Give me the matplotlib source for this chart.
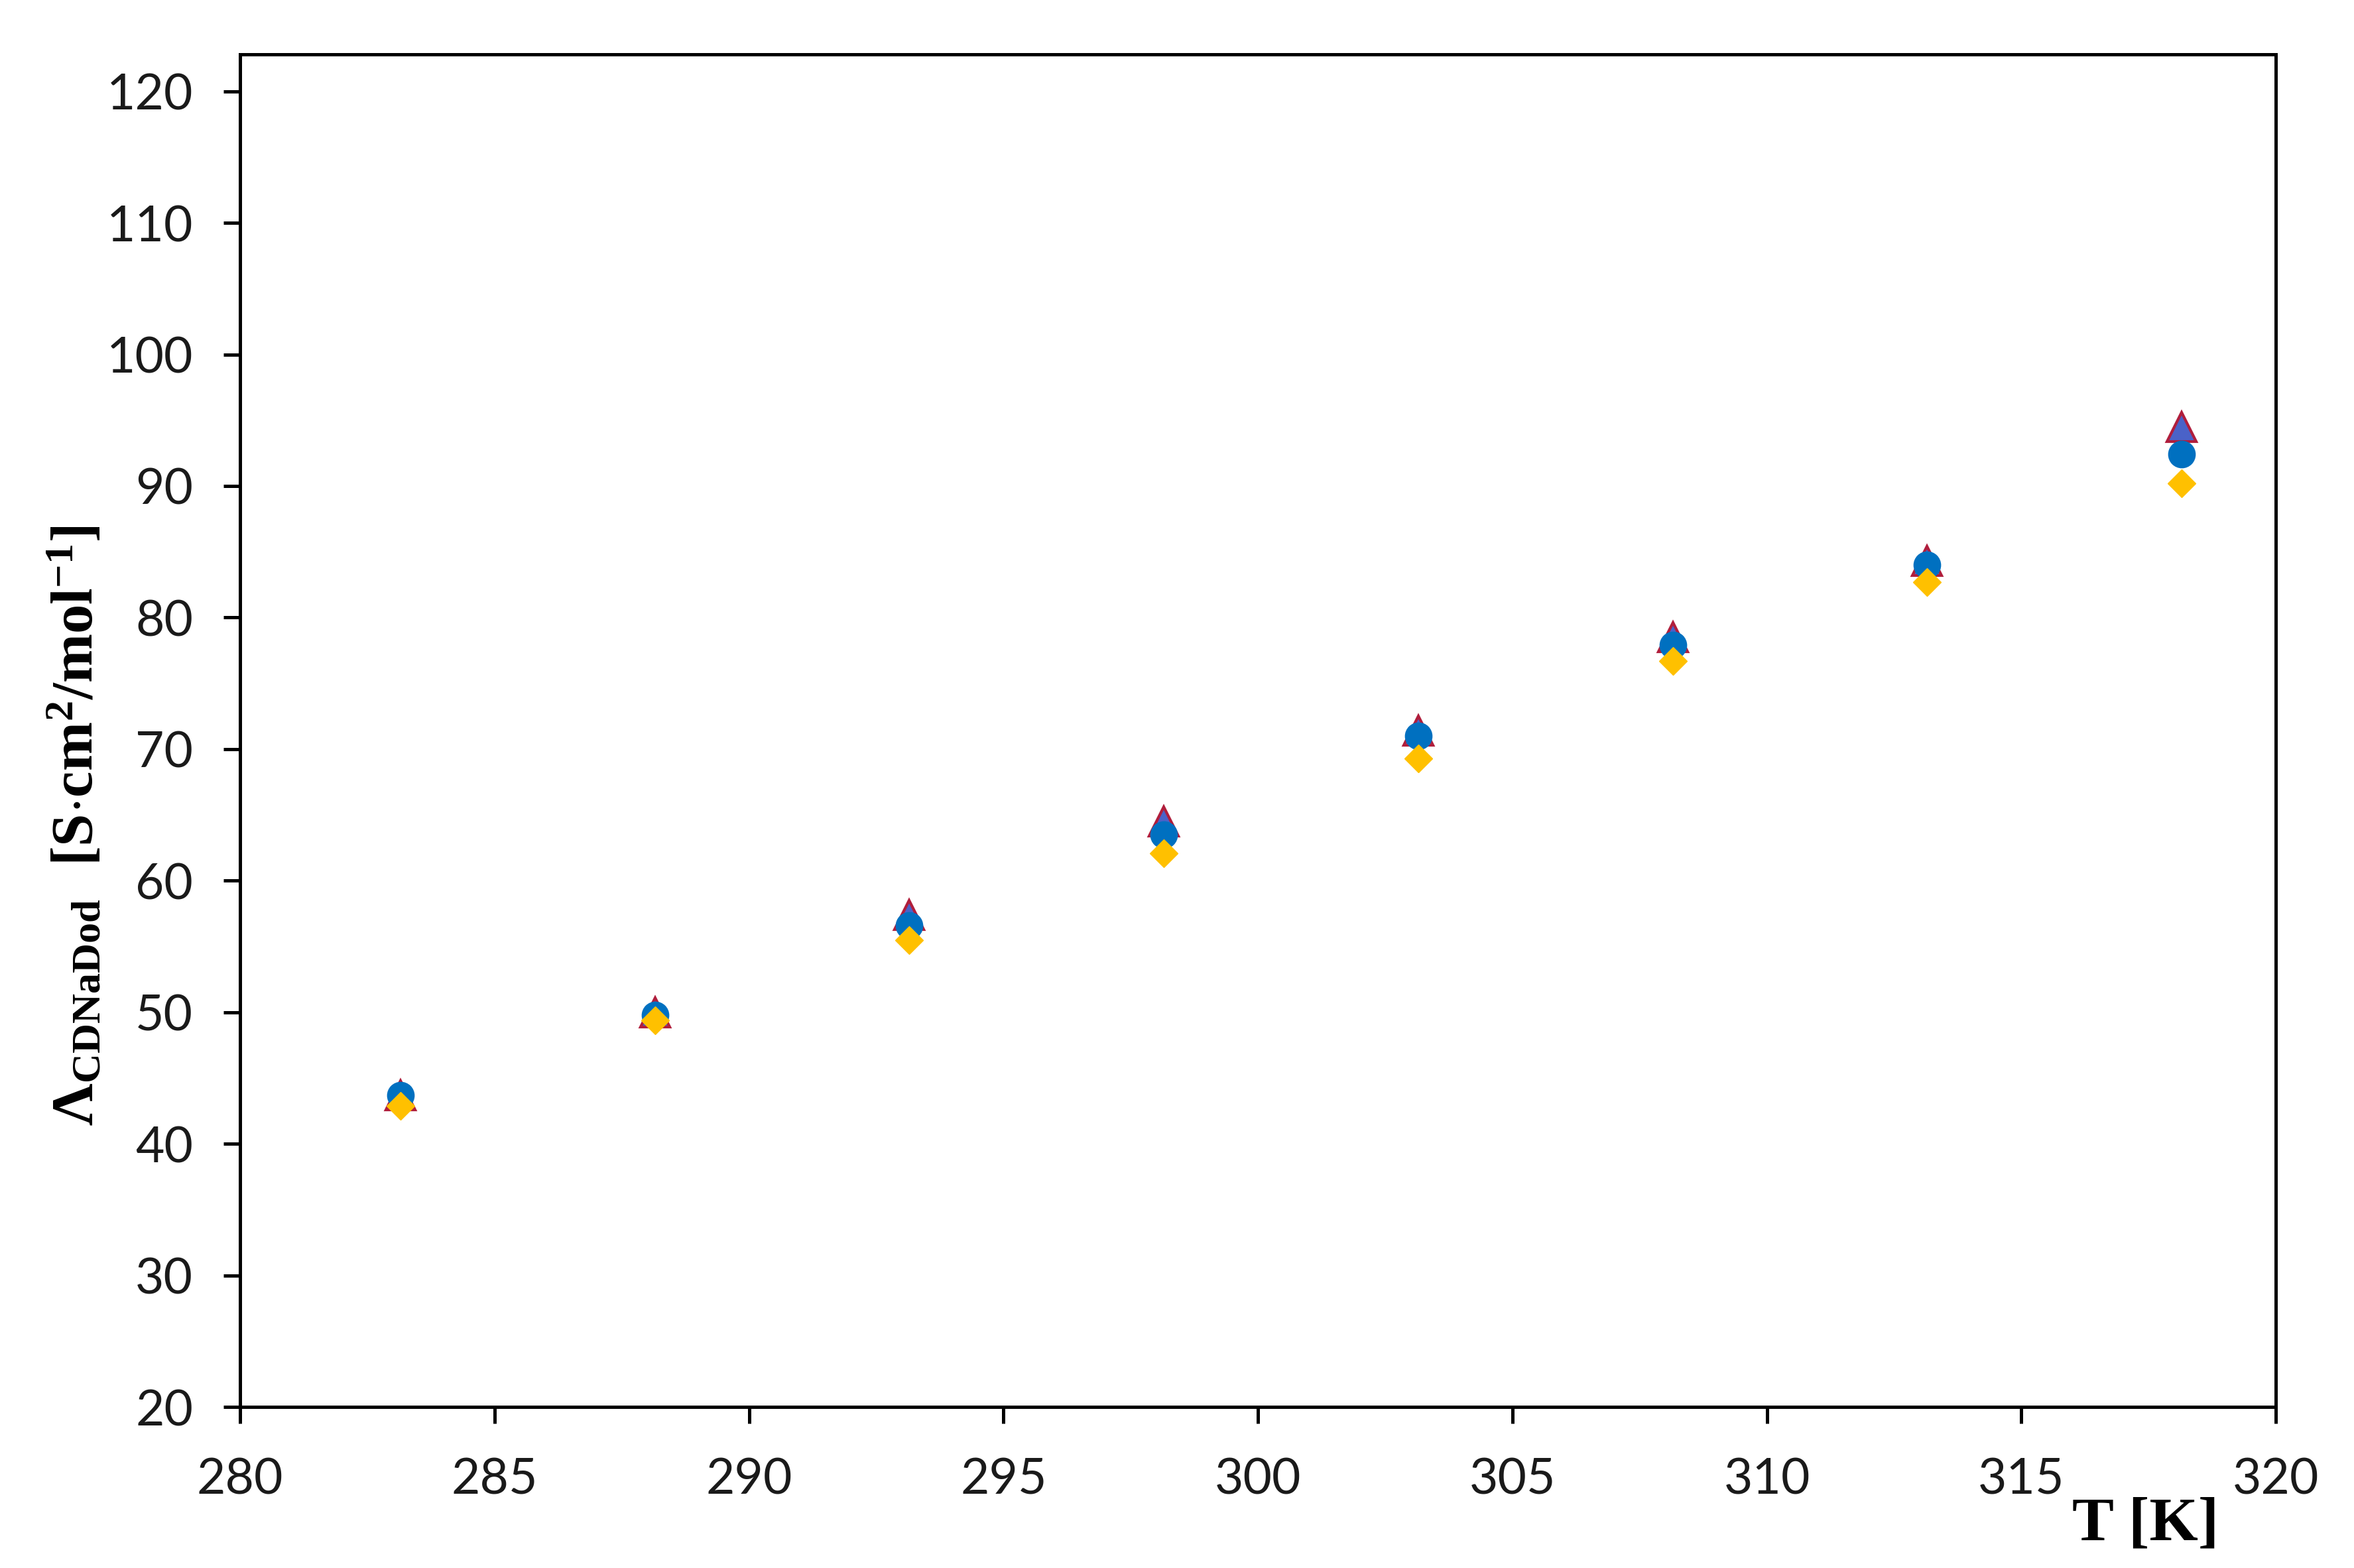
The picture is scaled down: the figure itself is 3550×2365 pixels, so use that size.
import matplotlib
matplotlib.use("Agg")
import matplotlib.pyplot as plt

# ---- data ----
T = [283.15, 288.15, 293.15, 298.15, 303.15, 308.15, 313.15, 318.15]
lam_tri = [43.7, 50.0, 57.4, 64.5, 71.4, 78.5, 84.3, 94.5]
lam_circ = [43.7, 49.8, 56.6, 63.5, 71.0, 77.9, 84.0, 92.4]
lam_diam = [42.9, 49.4, 55.5, 62.1, 69.3, 76.7, 82.7, 90.2]
xticks = [280, 285, 290, 295, 300, 305, 310, 315, 320]
yticks = [20, 30, 40, 50, 60, 70, 80, 90, 100, 110, 120]

plt.rcParams['mathtext.fontset'] = 'custom'
plt.rcParams['mathtext.rm'] = 'Liberation Serif:bold'
plt.rcParams['mathtext.bf'] = 'Liberation Serif:bold'
plt.rcParams['mathtext.it'] = 'Liberation Serif:bold'

fig = plt.figure(figsize=(35.5, 23.65), dpi=100)
ax = fig.add_axes([0.102, 0.1027, 0.8648, 0.8626])

ax.plot(T, lam_tri, linestyle='none', marker='^', markersize=31,
        markerfacecolor='#4A62C8', markeredgecolor='#B01E3C', markeredgewidth=3)
ax.plot(T, lam_circ, linestyle='none', marker='o', markersize=29,
        markerfacecolor='#0070C0', markeredgecolor='#0070C0')
ax.plot(T, lam_diam, linestyle='none', marker='D', markersize=21,
        markerfacecolor='#FFC000', markeredgecolor='#FFC000')

ax.set_xlim(280, 320)
ax.set_ylim(20, 122.8)
ax.set_xticks(xticks)
ax.set_yticks(yticks)
for s in ax.spines.values():
    s.set_linewidth(3.6)
    s.set_color('black')
ax.tick_params(axis='both', direction='out', length=18, width=3.6,
               labelsize=54, colors='black')
ax.tick_params(axis='x', pad=36)
ax.tick_params(axis='y', pad=33)
for lab in ax.get_xticklabels() + ax.get_yticklabels():
    lab.set_fontfamily('Lato')
    lab.set_color('#1a1a1a')

fig.text(0.9115, 0.0275, 'T [K]', fontsize=68, fontweight='bold',
         family='Liberation Serif', ha='center', va='center')
fig.text(0.0324, 0.4736,
         r'$\Lambda_{\mathrm{CDNaDod}}\ \ [\mathrm{S{\cdot}cm^{2}/mol^{-1}}]$',
         fontsize=64, rotation=90, ha='center', va='center')

fig.savefig('out.png', dpi=100)
